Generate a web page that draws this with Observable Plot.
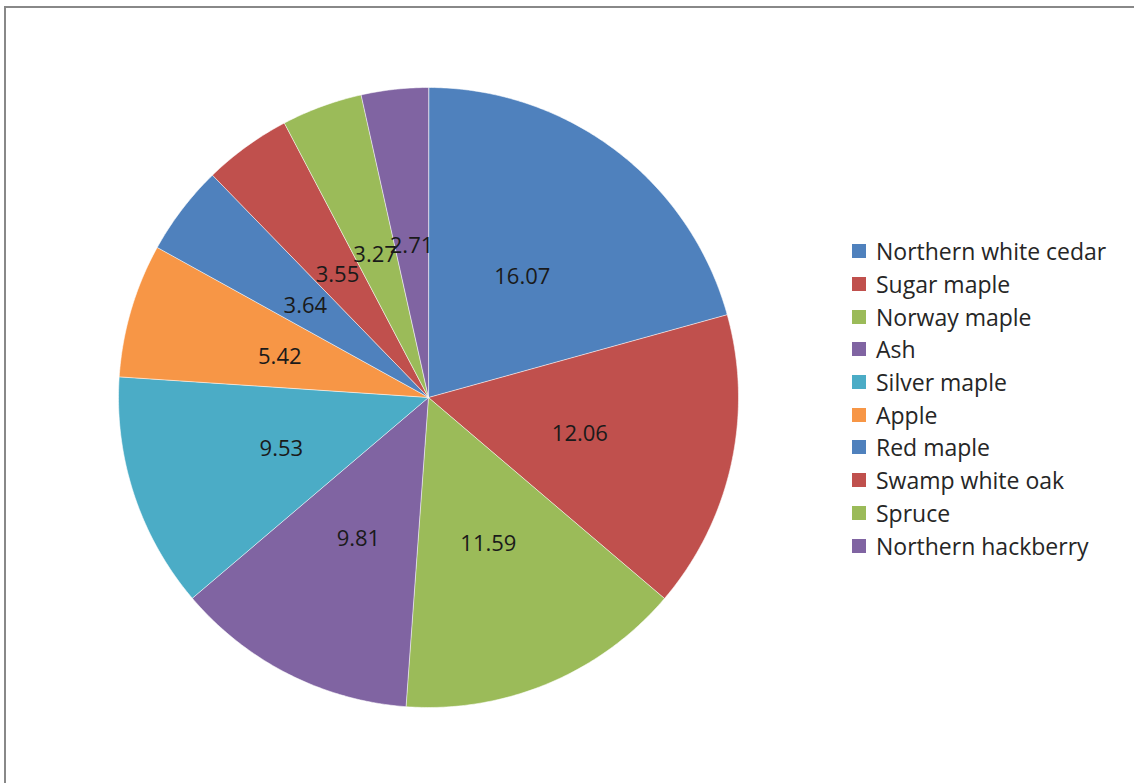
<!DOCTYPE html>
<html>
<head>
<meta charset="utf-8">
<script src="https://cdn.jsdelivr.net/npm/d3@7"></script>
<script src="https://cdn.jsdelivr.net/npm/@observablehq/plot@0.6"></script>
<style>
  html, body { margin: 0; padding: 0; background: #fff; }
  #wrap { position: relative; width: 1134px; height: 783px; overflow: hidden; }
  #frame { position: absolute; left: 4px; top: 6px; width: 1140px; height: 800px;
           border-left: 2px solid #888; border-top: 2px solid #888; box-sizing: border-box; }
  #legend { position: absolute; left: 852px; top: 235px; font-family: "Open Sans", sans-serif;
            font-size: 23px; color: #262626; }
  .item { display: flex; align-items: center; height: 32.7px; }
  .sw { width: 14px; height: 14px; margin-right: 10px; }
</style>
</head>
<body>
<div id="wrap">
  <div id="chart"></div>
  <div id="frame"></div>
  <div id="legend"></div>
</div>
<script>
const categories = ["Northern white cedar", "Sugar maple", "Norway maple", "Ash", "Silver maple",
  "Apple", "Red maple", "Swamp white oak", "Spruce", "Northern hackberry"];
const values = [16.07, 12.06, 11.59, 9.81, 9.53, 5.42, 3.64, 3.55, 3.27, 2.71];
const colors = ["#4F81BD", "#C0504D", "#9BBB59", "#8064A2", "#4BACC6",
  "#F79646", "#4F81BD", "#C0504D", "#9BBB59", "#8064A2"];

const data = categories.map((name, i) => ({name, value: values[i], color: colors[i]}));
const arcs = d3.pie().sort(null).value(d => d.value)(data);

// Build slice polygons in unit-circle coordinates (angle 0 at top, clockwise)
const pts = [];
arcs.forEach(a => {
  const n = Math.max(2, Math.ceil((a.endAngle - a.startAngle) / 0.01));
  pts.push({name: a.data.name, color: a.data.color, x: 0, y: 0});
  for (let k = 0; k <= n; k++) {
    const t = a.startAngle + (a.endAngle - a.startAngle) * k / n;
    pts.push({name: a.data.name, color: a.data.color, x: Math.sin(t), y: Math.cos(t)});
  }
});
const labelR = 0.5;
const labels = arcs.map(a => {
  const m = (a.startAngle + a.endAngle) / 2;
  return {text: a.data.value.toFixed(2), x: labelR * Math.sin(m), y: labelR * Math.cos(m)};
});

const chart = Plot.plot({
  width: 1134,
  height: 783,
  margin: 0,
  x: {domain: [-1, 1], range: [118, 738], axis: null},
  y: {domain: [-1, 1], range: [707, 87], axis: null},
  style: {background: "transparent"},
  marks: [
    Plot.line(pts, {x: "x", y: "y", z: "name", fill: "color", stroke: "#ffffff",
      strokeWidth: 0.8, strokeOpacity: 0.7, curve: "linear-closed"}),
    Plot.text(labels, {x: "x", y: "y", text: "text", fill: "#1a1a1a", dy: 3,
      fontSize: 22, fontFamily: "Open Sans, sans-serif"})
  ]
});
document.getElementById("chart").appendChild(chart);

const legend = document.getElementById("legend");
data.forEach(d => {
  const row = document.createElement("div");
  row.className = "item";
  const sw = document.createElement("div");
  sw.className = "sw";
  sw.style.background = d.color;
  const t = document.createElement("span");
  t.textContent = d.name;
  row.appendChild(sw);
  row.appendChild(t);
  legend.appendChild(row);
});
</script>
</body>
</html>
